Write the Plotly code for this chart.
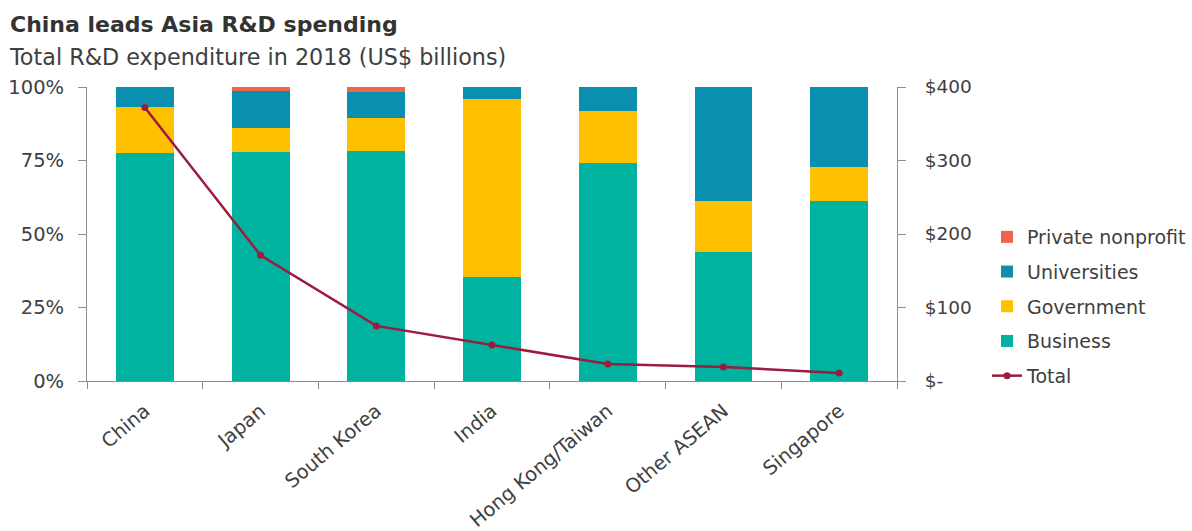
import plotly.graph_objects as go

# R&D spending by economy, 2018
categories = ["China", "Japan", "South Korea", "India", "Hong Kong/Taiwan", "Other ASEAN", "Singapore"]

# Share of total R&D by performing sector (fractions)
business = [0.775, 0.780, 0.783, 0.355, 0.740, 0.440, 0.612]
government = [0.158, 0.079, 0.112, 0.603, 0.180, 0.172, 0.115]
universities = [0.067, 0.128, 0.089, 0.042, 0.080, 0.388, 0.273]
private_nonprofit = [0.000, 0.013, 0.016, 0.000, 0.000, 0.000, 0.000]

# Total R&D expenditure (US$ billions)
total = [372, 171, 75, 49, 23, 19, 11]

pct_ticks = [0, 0.25, 0.5, 0.75, 1.0]
pct_labels = ["0%", "25%", "50%", "75%", "100%"]
usd_ticks = [0, 100, 200, 300, 400]
usd_labels = ["$-", "$100", "$200", "$300", "$400"]

text_color = "#404040"
axis_color = "#8c8c8c"
font_family = "DejaVu Sans"

# Plot area in pixels
W, H = 1192, 531
ML, MR, MT, MB = 87, 295, 87, 150
plot_w = W - ML - MR
plot_h = H - MT - MB


def px_x(px):
    return (px - ML) / plot_w


def px_y(py):
    return (H - MB - py) / plot_h


fig = go.Figure()

bar_series = [
    ("Business", business, "#00b3a0", 4),
    ("Government", government, "#ffc000", 3),
    ("Universities", universities, "#0a8fb0", 2),
    ("Private nonprofit", private_nonprofit, "#f0644a", 1),
]
for name, vals, color, rank in bar_series:
    fig.add_trace(go.Bar(
        x=categories, y=vals, name=name,
        marker=dict(color=color, line=dict(width=0)),
        legendrank=rank, legendgroup=name, yaxis="y",
    ))

fig.add_trace(go.Scatter(
    x=categories, y=total, name="Total", yaxis="y2",
    mode="lines+markers",
    line=dict(color="#9b1c3c", width=2.5),
    marker=dict(color="#9b1c3c", size=7),
    legendrank=5, legendgroup="Total",
))

fig.update_layout(
    width=W, height=H,
    margin=dict(l=ML, r=MR, t=MT, b=MB, autoexpand=False),
    paper_bgcolor="white", plot_bgcolor="white",
    barmode="stack", bargap=0.5,
    font=dict(family=font_family, color=text_color, size=19),
    showlegend=True,
    legend=dict(
        x=px_x(987), y=px_y(218), xanchor="left", yanchor="top",
        traceorder="grouped", font=dict(size=19, color=text_color),
        tracegroupgap=7, itemwidth=30, bgcolor="rgba(0,0,0,0)",
    ),
    xaxis=dict(
        type="category", tickangle=-40, tickson="boundaries",
        ticks="outside", ticklen=7, tickcolor=axis_color,
        ticklabelstandoff=10,
        showline=True, linecolor=axis_color, linewidth=1,
        showgrid=False, automargin=False,
        tickfont=dict(size=19.5, color=text_color),
    ),
    yaxis=dict(
        range=[0, 1], tickvals=pct_ticks, ticktext=pct_labels,
        ticks="outside", ticklen=8, tickcolor=axis_color,
        ticklabelstandoff=10,
        showline=True, linecolor=axis_color, linewidth=1,
        showgrid=False, zeroline=False, automargin=False,
        tickfont=dict(size=19.5, color=text_color),
    ),
    yaxis2=dict(
        range=[0, 400], tickvals=usd_ticks, ticktext=usd_labels,
        overlaying="y", side="right",
        ticks="outside", ticklen=8, tickcolor=axis_color,
        ticklabelstandoff=15,
        showline=True, linecolor=axis_color, linewidth=1,
        showgrid=False, zeroline=False, automargin=False,
        tickfont=dict(size=18.5, color=text_color),
    ),
)

fig.add_annotation(text="<b>China leads Asia R&D spending</b>",
                   x=px_x(8), y=px_y(24), xref="paper", yref="paper",
                   xanchor="left", yanchor="middle", showarrow=False,
                   font=dict(size=22, color="#333333", family=font_family))
fig.add_annotation(text="Total R&D expenditure in 2018 (US$ billions)",
                   x=px_x(7), y=px_y(57), xref="paper", yref="paper",
                   xanchor="left", yanchor="middle", showarrow=False,
                   font=dict(size=22.3, color=text_color, family=font_family))

fig.write_html("out.html")
